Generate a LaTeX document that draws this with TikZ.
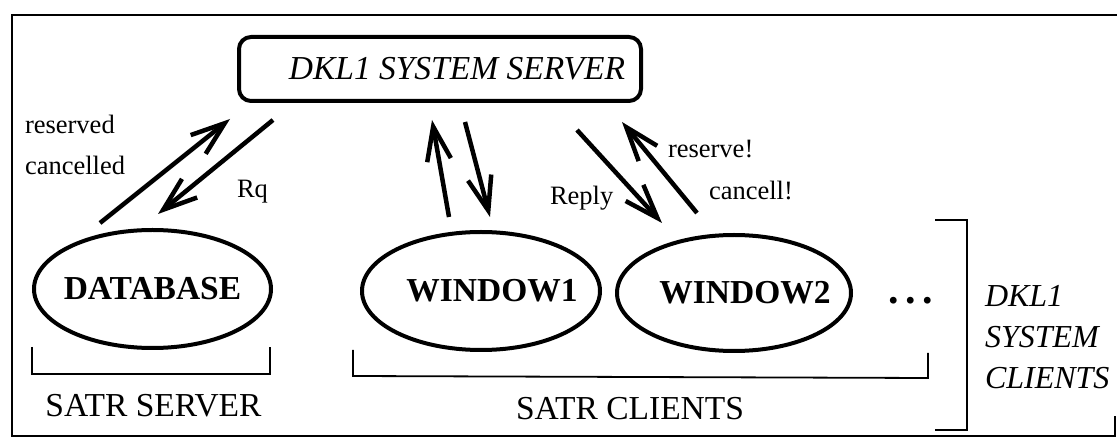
\documentclass[tikz,border=0pt]{standalone}
\usepackage{fontspec}
\setmainfont{Liberation Serif}
\usetikzlibrary{shapes.geometric,arrows.meta,calc}
\begin{document}
\begin{tikzpicture}[x=1pt,y=-1pt,
  every node/.style={inner sep=0pt, outer sep=0pt},
  frameline/.style={line width=2.2pt},
  bracketline/.style={line width=1.8pt},
  unit/.style={draw, ellipse, line width=4pt, inner xsep=-40pt,
    font=\fontsize{33.5}{40}\selectfont\bfseries},
  serverbox/.style={draw, rectangle, rounded corners=12pt, line width=4pt,
    font=\fontsize{33.5}{40}\selectfont\itshape},
  msg/.style={line width=4.5pt, -{Straight Barb[length=34pt,width=24pt]}},
  smalllabel/.style={font=\fontsize{26.5}{32}\selectfont, anchor=base west},
  grouplabel/.style={font=\fontsize{33.5}{40}\selectfont, anchor=base}
]
\useasboundingbox (0,0) rectangle (1117,438);

% outer frame
\draw[frameline] (1117,15) -- (12,15) -- (12,436) -- (1115,436) -- (1115,416);

% server and the units around it
\node[serverbox, minimum width=402pt, minimum height=64pt] (srv) at (440,69)
  {\hspace*{34pt}DKL1 SYSTEM SERVER};
\node[unit, minimum width=237pt, minimum height=118pt] (db) at (152.5,289) {DATABASE};
\node[unit, minimum width=238pt, minimum height=118pt] (w1) at (481,291) {\hspace*{22pt}WINDOW1};
\node[unit, minimum width=234pt, minimum height=116pt] (w2) at (734,293) {\hspace*{22pt}WINDOW2};
\node[font=\fontsize{42}{42}\selectfont\bfseries, anchor=base] (more) at (911,304)
  {.\hspace{6.5pt}.\hspace{6.5pt}.};

% messages
\draw[msg] ($(db.north)+(-52.5,-7)$) -- ($(srv.south)+(-210,18)$);
\draw[msg] ($(srv.south)+(-167,19)$) -- ($(db.north)+(5.5,-16)$);
\draw[msg] ($(w1.north)+(-32,-15)$) -- ($(srv.south)+(-8,19)$);
\draw[msg] ($(srv.south)+(25,21)$) -- ($(w1.north)+(9,-15)$);
\draw[msg] ($(srv.south)+(137,29)$) -- ($(w2.north)+(-72,-12)$);
\draw[msg] ($(w2.north)+(-37,-22)$) -- ($(srv.south)+(182,21)$);

% message labels
\node[smalllabel] (lres) at (25,134) {reserved};
\node[smalllabel] (lcan) at (25,175) {cancelled};
\node[smalllabel] (lrq) at (237,198) {Rq};
\node[smalllabel] (lrep) at (550,205) {Reply};
\node[smalllabel] (lres2) at (668,158) {reserve!};
\node[smalllabel] (lcan2) at (709,200) {cancell!};

% grouping brackets
\draw[bracketline] (32,347) -- (32,374) -- (270,374) -- (270,347);
\draw[bracketline] (353,350) -- (353,376) -- (928,378) -- (928,353);
\draw[bracketline] (935,220) -- (967,220) -- (967,430) -- (935,430);

% group names
\node[grouplabel] (satrs) at (153.5,417) {SATR SERVER};
\node[grouplabel] (satrc) at (630,420) {SATR CLIENTS};
\node[font=\fontsize{32}{41}\selectfont\itshape, align=left, anchor=north west]
  (dkl) at (985,285) {DKL1\\SYSTEM\\CLIENTS};
\end{tikzpicture}
\end{document}
